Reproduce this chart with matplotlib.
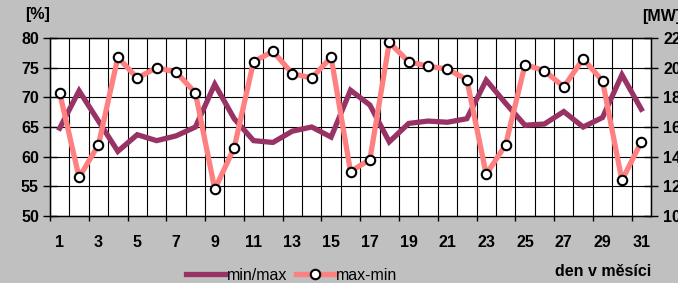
import numpy as np
import matplotlib.pyplot as plt
import matplotlib.transforms as mtransforms

plt.rcParams['font.family'] = ['Liberation Sans', 'DejaVu Sans']

dny = np.arange(1, 32)
min_max = [64.8, 71.1, 66.0, 60.9, 63.7, 62.7, 63.5, 65.0, 72.2, 66.4,
           62.7, 62.4, 64.3, 65.0, 63.3, 71.2, 68.7, 62.5, 65.6, 66.0,
           65.8, 66.4, 72.9, 69.0, 65.3, 65.5, 67.6, 65.0, 66.6, 73.8, 68.0]
max_min = [18.3, 12.6, 14.8, 20.7, 19.3, 20.0, 19.7, 18.3, 11.8, 14.6,
           20.4, 21.1, 19.6, 19.3, 20.7, 13.0, 13.8, 21.7, 20.4, 20.1,
           19.9, 19.2, 12.8, 14.8, 20.2, 19.8, 18.7, 20.6, 19.1, 12.4, 15.0]

fialova = '#993366'
ruzova = '#FF8080'
fs = 11.5

fig = plt.figure(figsize=(6.78, 2.83), dpi=100)
fig.patch.set_facecolor('#C0C0C0')
ax = fig.add_axes([50 / 678, 1 - 216 / 283, 601 / 678, 178 / 283])
ax.set_facecolor('white')

ax.set_xlim(0.5, 31.5)
ax.set_ylim(50, 80)
ax.set_yticks(np.arange(50, 81, 5))
ax.set_xticks(np.arange(0.5, 32, 1))
ax.set_xticks(np.arange(1, 32, 2), minor=True)
ax.set_xticklabels([])
ax.set_xticklabels([str(d) for d in range(1, 32, 2)], minor=True)
ax.tick_params(axis='x', which='both', length=0, pad=14, labelsize=fs)
ax.tick_params(axis='y', direction='inout', length=10, width=1, labelsize=fs, pad=3)
for t in ax.get_xticklabels(minor=True) + ax.get_yticklabels():
    t.set_fontweight('bold')
ax.grid(True, axis='x', which='major', color='black', lw=0.8)
ax.grid(True, axis='y', color='black', lw=0.8)
ax.set_axisbelow(True)
for s in ax.spines.values():
    s.set_linewidth(1)

# tick marks under x axis every second boundary
trans = mtransforms.blended_transform_factory(ax.transData, ax.transAxes)
ax.vlines(np.arange(0.5, 32, 2), -0.03, 0, transform=trans, color='black',
          lw=1, clip_on=False)

l1, = ax.plot(dny, min_max, color=fialova, lw=3.8, solid_joinstyle='miter',
              label='min/max', zorder=3)

ax2 = ax.twinx()
ax2.set_ylim(10, 22)
ax2.set_yticks(np.arange(10, 23, 2))
ax2.tick_params(axis='y', direction='inout', length=10, width=1, labelsize=fs, pad=4)
for t in ax2.get_yticklabels():
    t.set_fontweight('bold')
l2, = ax2.plot(dny, max_min, color=ruzova, lw=3.8, marker='o', ms=6.8,
               mfc='white', mec='black', mew=1.5, label='max-min', zorder=3)

fig.text(25 / 678, 1 - 14 / 283, '[%]', fontsize=fs, fontweight='bold', va='center')
fig.text(642 / 678, 1 - 16 / 283, '[MW]', fontsize=fs, fontweight='bold', va='center')
fig.text(651 / 678, 1 - 271 / 283, 'den v měsíci', fontsize=fs, fontweight='bold',
         ha='right', va='center')

fig.legend(handles=[l1, l2], loc='center', bbox_to_anchor=(292 / 678, 1 - 275 / 283),
           ncol=2, frameon=False, fontsize=fs, handlelength=2.4, handletextpad=0.15,
           columnspacing=0.5, borderpad=0)

fig.savefig('out.png', dpi=100, facecolor=fig.get_facecolor())
